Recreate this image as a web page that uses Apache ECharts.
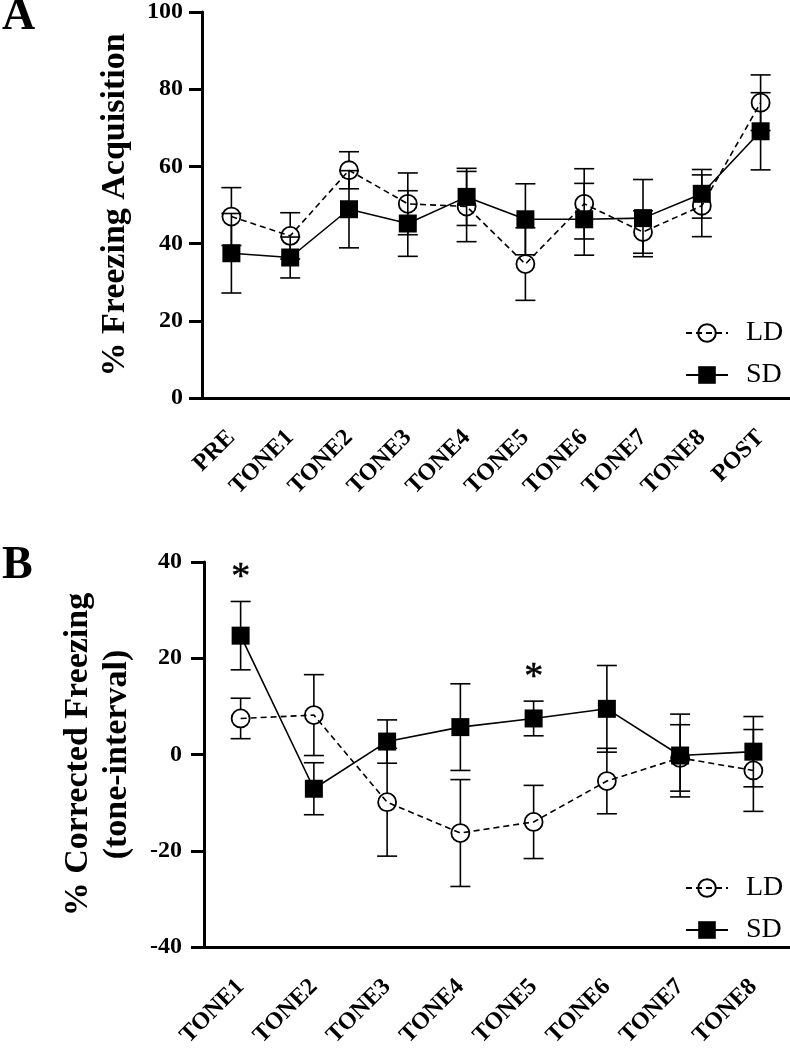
<!DOCTYPE html>
<html>
<head>
<meta charset="utf-8">
<script src="https://cdn.jsdelivr.net/npm/echarts@6/dist/echarts.min.js"></script>
<style>
html,body{margin:0;padding:0;background:#fff;}
#chart{width:790px;height:1050px;}
</style>
</head>
<body>
<div id="chart"></div>
<script>
// ---------- Panel A data ----------
const catsA = ['PRE','TONE1','TONE2','TONE3','TONE4','TONE5','TONE6','TONE7','TONE8','POST'];
const ldA    = [47.0, 42.0, 59.0, 50.3, 49.6, 34.7, 50.3, 43.0, 49.8, 76.5];
const ldAErr = [7.5, 6.0, 4.8, 8.0, 9.1, 9.4, 9.1, 5.5, 8.0, 7.2];
const sdA    = [37.5, 36.4, 48.9, 45.2, 52.1, 46.3, 46.3, 46.6, 52.9, 69.1];
const sdAErr = [10.3, 5.3, 10.0, 8.5, 7.4, 9.2, 9.3, 10.0, 6.3, 10.0];
const ticksA = [0, 20, 40, 60, 80, 100];

// ---------- Panel B data ----------
const catsB = ['TONE1','TONE2','TONE3','TONE4','TONE5','TONE6','TONE7','TONE8'];
const ldB    = [7.5, 8.2, -9.9, -16.3, -14.0, -5.5, -0.7, -3.3];
const ldBErr = [4.2, 8.4, 11.2, 11.1, 7.6, 6.8, 6.9, 8.5];
const sdB    = [24.7, -7.1, 2.7, 5.7, 7.5, 9.5, -0.2, 0.6];
const sdBErr = [7.1, 5.4, 4.5, 9.0, 3.6, 9.0, 8.6, 7.3];
const ticksB = [-40, -20, 0, 20, 40];
const sigCats = ['TONE1', 'TONE5'];
const sigY    = [36.6, 16.0];

const FONT = "'Liberation Serif','Times New Roman',serif";
const SYM = 18;

function errData(cats, means, errs){
  return cats.map((c, i) => [i, means[i], errs[i]]);
}
function errRender(symR){
  return function(params, api){
    const x = api.value(0), m = api.value(1), e = api.value(2);
    const c = api.coord([x, m]);
    const hi = api.coord([x, m + e]);
    const lo = api.coord([x, m - e]);
    const hw = 10;
    const st = {stroke:'#000', lineWidth:1.6, fill:null};
    const ch = [];
    if (c[1] - hi[1] > symR) ch.push({type:'line', shape:{x1:c[0], y1:c[1]-symR, x2:c[0], y2:hi[1]}, style:st});
    if (lo[1] - c[1] > symR) ch.push({type:'line', shape:{x1:c[0], y1:c[1]+symR, x2:c[0], y2:lo[1]}, style:st});
    ch.push({type:'line', shape:{x1:c[0]-hw, y1:hi[1], x2:c[0]+hw, y2:hi[1]}, style:st});
    ch.push({type:'line', shape:{x1:c[0]-hw, y1:lo[1], x2:c[0]+hw, y2:lo[1]}, style:st});
    return {type:'group', children:ch};
  };
}

const axisLineStyle = {color:'#000', width:3};
function xAxisCfg(gi, cats){
  return {
    type:'category', gridIndex:gi, data:cats, boundaryGap:true,
    axisLine:{onZero:false, lineStyle:axisLineStyle},
    axisTick:{alignWithLabel:true, interval:0, length:13, lineStyle:{color:'#000', width:3}},
    axisLabel:{interval:0, rotate:45, margin:36, color:'#000', fontFamily:FONT, fontWeight:'bold', fontSize:24},
    splitLine:{show:false}
  };
}
function yAxisCfg(gi, ticks, name, margin){
  return {
    type:'value', gridIndex:gi, min:ticks[0], max:ticks[ticks.length-1], interval:ticks[1]-ticks[0],
    axisLine:{show:true, onZero:false, lineStyle:axisLineStyle},
    axisTick:{show:true, length:13, lineStyle:{color:'#000', width:3}},
    axisLabel:{margin:margin, color:'#000', fontFamily:FONT, fontWeight:'bold', fontSize:24},
    splitLine:{show:false},
    name:name, nameLocation:'middle', nameGap:67,
    nameTextStyle:{color:'#000', fontFamily:FONT, fontWeight:'bold', fontSize:34, lineHeight:39}
  };
}
function ldLine(xi, yi, data){
  return {
    name:'LD', type:'line', xAxisIndex:xi, yAxisIndex:yi, data:data, z:3,
    symbol:'circle', symbolSize:SYM, showSymbol:true,
    lineStyle:{color:'#000', width:1.6, type:[6,4]},
    itemStyle:{color:'rgba(255,255,255,0)', borderColor:'#000', borderWidth:1.8},
    emphasis:{disabled:true}
  };
}
function sdLine(xi, yi, data){
  return {
    name:'SD', type:'line', xAxisIndex:xi, yAxisIndex:yi, data:data, z:5,
    symbol:'rect', symbolSize:SYM, showSymbol:true,
    lineStyle:{color:'#000', width:1.6, type:'solid'},
    itemStyle:{color:'#000', borderColor:'#000', borderWidth:0},
    emphasis:{disabled:true}
  };
}
function errSeries(xi, yi, cats, means, errs, z, r){
  return {
    type:'custom', xAxisIndex:xi, yAxisIndex:yi, z:z,
    data:errData(cats, means, errs), encode:{x:0, y:1},
    renderItem:errRender(r), silent:true
  };
}
function legendCfg(top){
  return {
    data:['LD','SD'], orient:'vertical', left:680, top:top,
    itemWidth:42, itemHeight:22, itemGap:14,
    textStyle:{color:'#000', fontFamily:FONT, fontSize:28, padding:[0,0,0,13]},
    selectedMode:false
  };
}

const chart = echarts.init(document.getElementById('chart'), null, {renderer:'canvas'});
chart.setOption({
  animation:false,
  backgroundColor:'#fff',
  title:[
    {text:'A', left:2, top:-6, padding:0, textStyle:{fontFamily:FONT, fontWeight:'bold', fontSize:46, color:'#000'}},
    {text:'B', left:2, top:543, padding:0, textStyle:{fontFamily:FONT, fontWeight:'bold', fontSize:46, color:'#000'}}
  ],
  legend:[legendCfg(314), legendCfg(869)],
  grid:[
    {left:202, right:0, top:10, height:388},
    {left:204, right:0, top:562, height:389}
  ],
  xAxis:[xAxisCfg(0, catsA), xAxisCfg(1, catsB)],
  yAxis:[
    yAxisCfg(0, ticksA, '% Freezing Acquisition', 19),
    yAxisCfg(1, ticksB, '% Corrected Freezing\n(tone-interval)', 22)
  ],
  series:[
    errSeries(0, 0, catsA, ldA, ldAErr, 2, SYM/2),
    ldLine(0, 0, ldA),
    errSeries(0, 0, catsA, sdA, sdAErr, 4, 0),
    sdLine(0, 0, sdA),
    errSeries(1, 1, catsB, ldB, ldBErr, 2, SYM/2),
    ldLine(1, 1, ldB),
    errSeries(1, 1, catsB, sdB, sdBErr, 4, 0),
    sdLine(1, 1, sdB),
    {
      type:'scatter', xAxisIndex:1, yAxisIndex:1, z:6, silent:true,
      data:sigCats.map((c, i) => [c, sigY[i]]),
      symbolSize:1, itemStyle:{color:'rgba(0,0,0,0)'},
      label:{show:true, position:'inside', formatter:'*', color:'#000', opacity:1,
             fontFamily:FONT, fontWeight:'normal', fontSize:38,
             textBorderColor:'#000', textBorderWidth:0.5}
    }
  ]
});
</script>
</body>
</html>
